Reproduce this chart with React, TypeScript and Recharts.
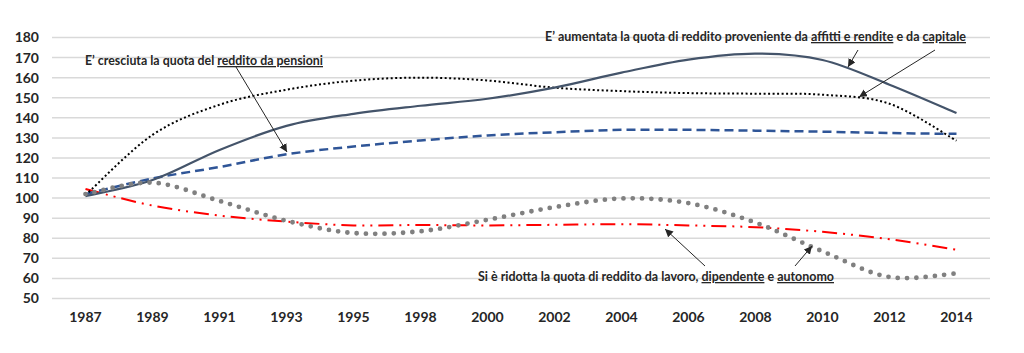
import React from 'react';
import { LineChart, Line, XAxis, YAxis, CartesianGrid } from 'recharts';

const years = ['1987', '1989', '1991', '1993', '1995', '1998', '2000', '2002', '2004', '2006', '2008', '2010', '2012', '2014'];
const capitaleValues = [101, 109, 124, 136, 142, 146, 149.5, 155, 162.5, 169, 172, 168.8, 156.5, 142.4];
const affittiValues = [101.5, 131.5, 146.5, 154, 158.5, 160, 158.6, 155, 153.3, 152.3, 152, 151.5, 147, 128.6];
const pensioniValues = [102, 109.8, 115.5, 121.8, 125.7, 128.7, 131.2, 132.8, 134, 134, 133.6, 133.1, 132.4, 132];
const dipendenteValues = [104.5, 96.3, 91.3, 88.3, 86.4, 86.6, 86.4, 86.7, 87, 86.4, 85.5, 83.2, 79.5, 74.3];
const autonomoValues = [102, 107.7, 98.6, 88.7, 82.6, 83.5, 89.2, 95.5, 99.8, 97.5, 87.8, 73.5, 60.7, 62.5];
const yTicks = [50, 60, 70, 80, 90, 100, 110, 120, 130, 140, 150, 160, 170, 180];

const data = years.map((year, i) => ({
  year,
  capitale: capitaleValues[i],
  affitti: affittiValues[i],
  pensioni: pensioniValues[i],
  dipendente: dipendenteValues[i],
  autonomo: autonomoValues[i],
}));

// Catmull-Rom smoothing similar to Excel "smoothed line"
const smoothCurve: any = (context: any) => {
  let pts: number[][] = [];
  return {
    areaStart() {},
    areaEnd() {},
    lineStart() {
      pts = [];
    },
    point(x: number, y: number) {
      pts.push([+x, +y]);
    },
    lineEnd() {
      if (!pts.length) return;
      context.moveTo(pts[0][0], pts[0][1]);
      for (let i = 0; i < pts.length - 1; i++) {
        const p0 = pts[i - 1] || pts[i];
        const p1 = pts[i];
        const p2 = pts[i + 1];
        const p3 = pts[i + 2] || p2;
        context.bezierCurveTo(
          p1[0] + (p2[0] - p0[0]) / 6,
          p1[1] + (p2[1] - p0[1]) / 6,
          p2[0] - (p3[0] - p1[0]) / 6,
          p2[1] - (p3[1] - p1[1]) / 6,
          p2[0],
          p2[1]
        );
      }
    },
  };
};

const FONT = 'Lato, "Open Sans", sans-serif';
const tickStyle = { fill: '#262626', fontSize: 14, fontWeight: 700, fontFamily: FONT };
const noteStyle: React.CSSProperties = { fontFamily: FONT, fontWeight: 700, fontSize: 13, fill: '#262626' };

const Arrow = ({ x1, y1, x2, y2 }: { x1: number; y1: number; x2: number; y2: number }) => (
  <line x1={x1} y1={y1} x2={x2} y2={y2} stroke="#262626" strokeWidth={1} markerEnd="url(#arrowHead)" />
);

export default function App() {
  return (
    <div style={{ position: 'relative', width: 1016, height: 345 }}>
      <LineChart width={1016} height={345} data={data} margin={{ top: 29.5, right: 34, bottom: 24.5, left: 4 }}>
        <CartesianGrid vertical={false} stroke="#d9d9d9" strokeWidth={1.5} />
        <XAxis
          dataKey="year"
          axisLine={false}
          tickLine={false}
          padding={{ left: 33.5, right: 33.5 }}
          tick={tickStyle}
          tickMargin={8}
          height={30}
          interval={0}
        />
        <YAxis
          domain={[50, 180]}
          ticks={yTicks}
          axisLine={false}
          tickLine={false}
          width={40}
          tickMargin={7}
          tick={tickStyle}
          interval={0}
        />
        <Line dataKey="dipendente" type={smoothCurve} stroke="#ff0000" strokeWidth={2} strokeDasharray="15 6 2 6 2 6" dot={false} isAnimationActive={false} />
        <Line dataKey="pensioni" type={smoothCurve} stroke="#2f5597" strokeWidth={2.5} strokeDasharray="9 5" dot={false} isAnimationActive={false} />
        <Line dataKey="affitti" type={smoothCurve} stroke="#000000" strokeWidth={2} strokeDasharray="2 2.5" dot={false} isAnimationActive={false} />
        <Line dataKey="capitale" type={smoothCurve} stroke="#44546a" strokeWidth={2.2} dot={false} isAnimationActive={false} />
        <Line dataKey="autonomo" type={smoothCurve} stroke="#808080" strokeWidth={4.8} strokeLinecap="round" strokeDasharray="0 9.3" dot={false} isAnimationActive={false} />
      </LineChart>
      <svg width={1016} height={345} style={{ position: 'absolute', left: 0, top: 0, pointerEvents: 'none' }}>
        <defs>
          <marker id="arrowHead" markerUnits="userSpaceOnUse" markerWidth={10} markerHeight={10} refX={8} refY={4} orient="auto">
            <path d="M0,0 L8,4 L0,8 Z" fill="#262626" />
          </marker>
        </defs>
        <g transform="translate(-8,-8)">
          <text x={85} y={65} style={noteStyle} textLength={238} lengthAdjust="spacingAndGlyphs">
            E’ cresciuta la quota del <tspan textDecoration="underline">reddito da pensioni</tspan>
          </text>
          <text x={545} y={41} style={noteStyle} textLength={421} lengthAdjust="spacingAndGlyphs">
            E’ aumentata la quota di reddito proveniente da <tspan textDecoration="underline">affitti e rendite</tspan> e da <tspan textDecoration="underline">capitale</tspan>
          </text>
          <text x={478} y={281} style={noteStyle} textLength={356} lengthAdjust="spacingAndGlyphs">
            Si è ridotta la quota di reddito da lavoro, <tspan textDecoration="underline">dipendente</tspan> e <tspan textDecoration="underline">autonomo</tspan>
          </text>
          <Arrow x1={236} y1={67} x2={287} y2={152} />
          <Arrow x1={858} y1={50} x2={848} y2={67} />
          <Arrow x1={935} y1={50} x2={859} y2={97} />
          <Arrow x1={705} y1={266} x2={665} y2={229} />
          <Arrow x1={795} y1={266} x2={812} y2={246} />
        </g>
      </svg>
    </div>
  );
}
